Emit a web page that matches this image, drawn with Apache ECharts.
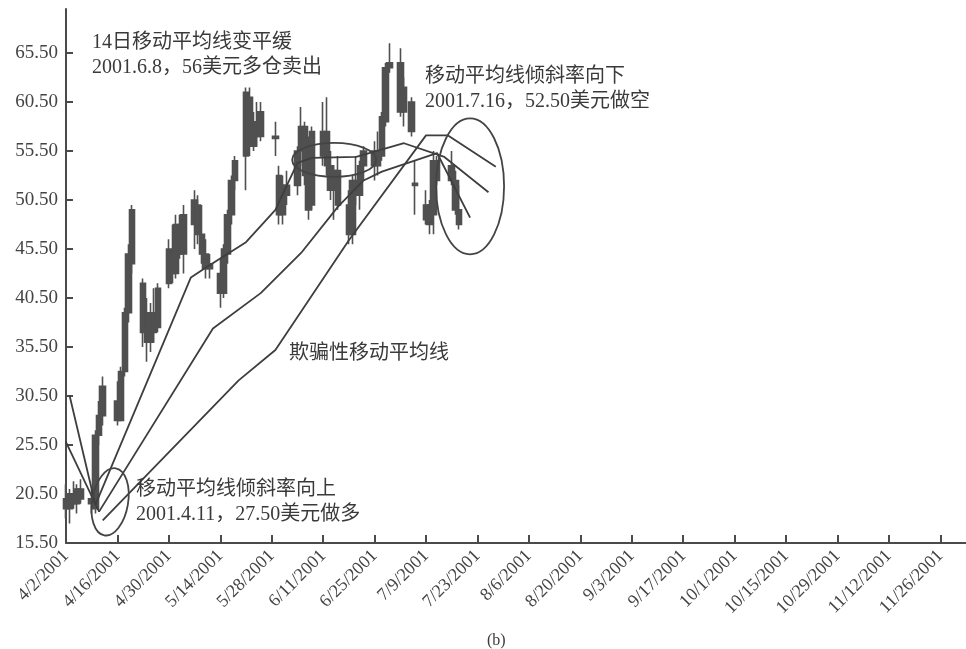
<!DOCTYPE html>
<html>
<head>
<meta charset="utf-8">
<script src="https://cdn.jsdelivr.net/npm/echarts@6/dist/echarts.min.js"></script>
<style>
html, body { margin: 0; padding: 0; background: #fff; }
#view { width: 966px; height: 649px; }
</style>
</head>
<body>
<div id="view"></div>
<script>
var myChart = echarts.init(document.getElementById('view'));

/* 坐标轴刻度 */
var tickLabels = ['4/2/2001', '4/16/2001', '4/30/2001', '5/14/2001', '5/28/2001', '6/11/2001',
    '6/25/2001', '7/9/2001', '7/23/2001', '8/6/2001', '8/20/2001', '9/3/2001', '9/17/2001',
    '10/1/2001', '10/15/2001', '10/29/2001', '11/12/2001', '11/26/2001'];
var yTicks = [15.5, 20.5, 25.5, 30.5, 35.5, 40.5, 45.5, 50.5, 55.5, 60.5, 65.5];

/* 日K数据 (2001) */
var barDates = ['4/2', '4/3', '4/4', '4/5', '4/6', '4/9', '4/10', '4/11', '4/12',
    '4/16', '4/17', '4/18', '4/19', '4/20', '4/23', '4/24', '4/25', '4/26', '4/27',
    '4/30', '5/1', '5/2', '5/3', '5/4', '5/7', '5/8', '5/9', '5/10', '5/11',
    '5/14', '5/15', '5/16', '5/17', '5/18', '5/21', '5/22', '5/23', '5/24', '5/25',
    '5/29', '5/30', '5/31', '6/1', '6/4', '6/5', '6/6', '6/7', '6/8',
    '6/11', '6/12', '6/13', '6/14', '6/15', '6/18', '6/19', '6/20', '6/21', '6/22',
    '6/25', '6/26', '6/27', '6/28', '6/29', '7/2', '7/3', '7/5', '7/6',
    '7/9', '7/10', '7/11', '7/12', '7/16', '7/17', '7/18'];
var opens = [20, 19, 20.5, 19.5, 21, 20, 19, 26.5, 28.5,
    30, 28, 33, 39, 44, 42, 37, 36, 39, 37.5,
    42, 45, 43, 48, 45, 48, 50, 47, 45, 43.5,
    43, 41, 45, 49, 52.5, 55, 61, 56, 58.5, 57,
    57, 53, 49, 52, 52, 55.5, 58, 53, 50,
    55, 57.5, 54, 51.5, 53.5, 50, 47, 52.5, 51, 54,
    54, 55.5, 55, 58.5, 64, 64.5, 59.5, 60.5, 52,
    50, 48, 49, 54.5, 54, 52.5, 49.5];
var highs = [21.5, 21, 21.8, 21.5, 22, 21, 27, 30, 32.5,
    32, 33.5, 39.5, 46, 50, 42.5, 40.5, 40, 41.5, 42,
    46.5, 48, 49, 49, 50, 51.5, 51, 50, 46.5, 45,
    44.5, 46, 49.5, 53, 55, 62, 62, 59.5, 60.5, 60.5,
    58.5, 54, 53, 53.5, 56, 60, 58.5, 57, 58,
    60.5, 61, 55.5, 54, 55, 51.5, 53, 55, 54.5, 56,
    56.5, 57.5, 59.5, 64.5, 66.5, 66, 63, 61, 54.5,
    51.5, 50.5, 55.5, 55, 55.5, 53.5, 52];
var lows = [18, 17.5, 19, 18.5, 19.5, 18.5, 18.5, 25.5, 27.5,
    27.5, 28, 32.5, 38, 43, 35.5, 34, 35, 36, 37,
    41.5, 42, 42.5, 44.5, 43, 45.5, 46, 44, 42.5, 42.5,
    39.5, 40.5, 44, 48, 51.5, 51.5, 55, 55.5, 56, 56.5,
    55, 48, 48, 50, 51, 54, 52, 48.5, 49.5,
    54, 53, 50.5, 48.5, 49.5, 46, 46, 50, 49.5, 52.5,
    52.5, 53, 54.5, 58, 63.5, 59, 58, 57, 49,
    48, 47, 47, 52, 52, 49, 47.5];
var closes = [19, 20.5, 19.5, 21, 20, 19.5, 26.5, 28.5, 31.5,
    28, 33, 39, 45, 49.5, 37, 36, 39, 37, 41.5,
    45.5, 43, 48, 45, 49, 50.5, 47, 45, 43.5, 44,
    41, 45.5, 49, 52.5, 54.5, 61.5, 56, 58.5, 57, 59.5,
    56.8, 49, 52, 51, 55.5, 58, 53, 49.5, 57.5,
    57.5, 54, 51.5, 53.5, 50, 47, 52.5, 51, 54, 55.5,
    55.5, 54, 59, 64, 64.5, 59.5, 62, 57.5, 52.2,
    48.5, 50, 54.5, 52.5, 52.5, 49.5, 48];

/* 三条移动平均线 (折点) */
var maFastDates = ['4/3', '4/10', '5/6', '5/10', '5/21', '5/29', '6/4', '6/8', '6/20', '7/3', '7/14', '7/26'];
var maFast = [30.5, 19.4, 42.6, 43.6, 46.2, 49.5, 54.3, 54.8, 54.9, 56.3, 54.9, 51.3];
var maMidDates = ['4/2', '4/11', '5/12', '5/25', '6/5', '6/15', '6/22', '6/27', '7/12', '7/21'];
var maMid = [25.8, 18.7, 37.4, 41, 45.1, 49.8, 52.5, 53.4, 55.3, 48.7];
var maSlowDates = ['4/12', '5/19', '5/29', '6/18', '7/9', '7/15', '7/28'];
var maSlow = [17.8, 32.1, 35.2, 46.4, 57.1, 57.1, 53.9];

var FONT = '"Liberation Serif", "Noto Sans CJK SC", serif';
var INK = '#4a4a4a';

/* 日期 -> 距 2001/4/2 的天数 */
function dayOf(s) {
    var p = s.split('/');
    var y = p[2] ? +p[2] : 2001;
    return Math.round((Date.UTC(y, p[0] - 1, +p[1]) - Date.UTC(2001, 3, 2)) / 86400000);
}
function pairs(dates, vals) {
    return dates.map(function (d, i) { return [dayOf(d), vals[i]]; });
}

var tickDays = tickLabels.map(dayOf);
var candles = barDates.map(function (d, i) {
    return [dayOf(d), opens[i], closes[i], lows[i], highs[i]];
});

function maSeries(data) {
    return {
        type: 'line',
        data: data,
        symbol: 'none',
        silent: true,
        lineStyle: { color: '#3e3e3e', width: 1.8 },
        z: 3
    };
}

option = {
    backgroundColor: '#fff',
    animation: false,
    grid: { left: 66, right: 0, top: 9, bottom: 106 },
    xAxis: {
        type: 'value',
        min: 0,
        max: 245,
        axisLine: { lineStyle: { color: INK, width: 2 } },
        axisTick: { inside: true, length: 8, customValues: tickDays, lineStyle: { color: INK, width: 2 } },
        axisLabel: {
            customValues: tickDays,
            rotate: 45,
            margin: 10,
            color: '#444',
            fontSize: 18,
            fontFamily: FONT,
            formatter: function (v) {
                var i = tickDays.indexOf(Math.round(v));
                return i < 0 ? '' : tickLabels[i];
            }
        },
        splitLine: { show: false }
    },
    yAxis: {
        type: 'value',
        min: 15.5,
        max: 70,
        axisLine: { show: true, lineStyle: { color: INK, width: 2 } },
        axisTick: { show: true, inside: true, length: 7, customValues: yTicks, lineStyle: { color: INK, width: 2 } },
        axisLabel: {
            customValues: yTicks,
            margin: 8,
            color: '#444',
            fontSize: 19,
            fontFamily: FONT,
            formatter: function (v) { return v.toFixed(2); }
        },
        splitLine: { show: false }
    },
    series: [
        {
            type: 'candlestick',
            data: candles,
            barWidth: 6,
            silent: true,
            itemStyle: {
                color: '#505050', color0: '#505050',
                borderColor: '#505050', borderColor0: '#505050',
                borderWidth: 1.6
            },
            z: 2
        },
        maSeries(pairs(maFastDates, maFast)),
        maSeries(pairs(maMidDates, maMid)),
        maSeries(pairs(maSlowDates, maSlow))
    ]
};

myChart.setOption(option);

/* 注释：椭圆圈 + 文字 */
function px(date, v) {
    return myChart.convertToPixel({ gridIndex: 0 }, [dayOf(date), v]);
}
function ring(date, v, rx, ry, rot) {
    var p = px(date, v);
    return {
        type: 'ellipse',
        x: p[0], y: p[1],
        rotation: rot || 0,
        shape: { cx: 0, cy: 0, rx: rx, ry: ry },
        style: { fill: 'none', stroke: '#444', lineWidth: 1.8 },
        z: 10
    };
}
function note(x, y, text, size) {
    return {
        type: 'text',
        x: x, y: y,
        style: {
            text: text,
            font: (size || 20) + 'px ' + FONT,
            fill: '#3a3a3a',
            lineHeight: 25,
            verticalAlign: 'top'
        },
        z: 10
    };
}

myChart.setOption({
    graphic: [
        ring('6/14', 54.6, 42, 17, 0),
        ring('7/21', 51.9, 34, 68, 0),
        ring('4/14', 19.7, 18, 34, -0.17),
        note(92, 30, '14日移动平均线变平缓\n2001.6.8，56美元多仓卖出'),
        note(425, 64, '移动平均线倾斜率向下\n2001.7.16，52.50美元做空'),
        note(289, 341, '欺骗性移动平均线'),
        note(136, 477, '移动平均线倾斜率向上\n2001.4.11，27.50美元做多'),
        note(487, 628, '(b)', 16)
    ]
});
</script>
</body>
</html>
